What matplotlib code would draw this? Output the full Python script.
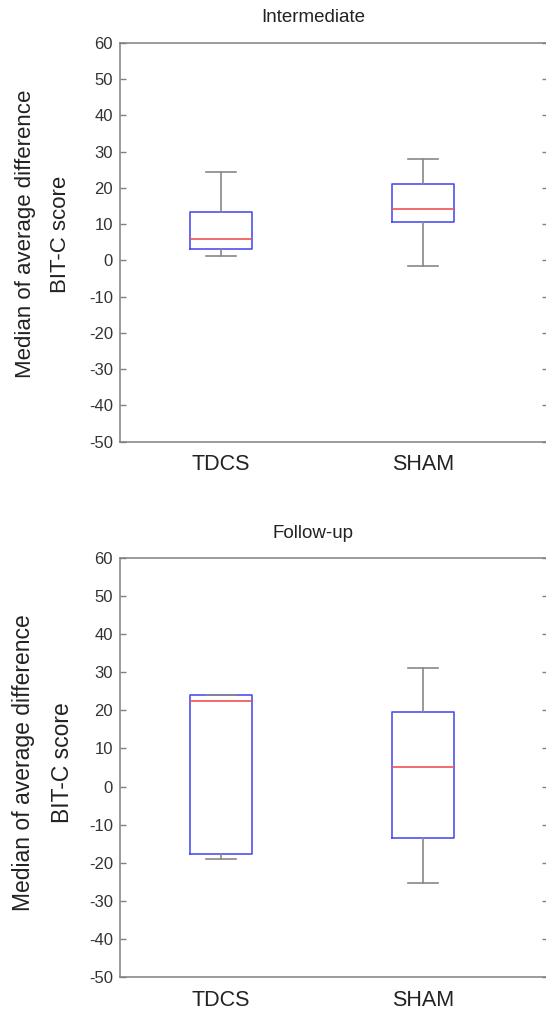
import matplotlib
matplotlib.use("Agg")
import matplotlib.pyplot as plt

plt.rcParams['font.family'] = ['Liberation Sans', 'DejaVu Sans']

groups = ["TDCS", "SHAM"]
panel_titles = ["Intermediate", "Follow-up"]
y_label = "Median of average difference\nBIT-C score"
y_ticks = [60, 50, 40, 30, 20, 10, 0, -10, -20, -30, -40, -50]

# five-number summaries per group: lower whisker, Q1, median, Q3, upper whisker
intermediate_low = [1.1, -1.6]
intermediate_q1 = [3.2, 10.6]
intermediate_med = [5.9, 14.3]
intermediate_q3 = [13.5, 21.2]
intermediate_high = [24.5, 27.9]

followup_low = [-19.0, -25.3]
followup_q1 = [-17.8, -13.4]
followup_med = [22.4, 5.0]
followup_q3 = [24.1, 19.6]
followup_high = [24.1, 31.2]

panels = [
    (intermediate_low, intermediate_q1, intermediate_med, intermediate_q3, intermediate_high),
    (followup_low, followup_q1, followup_med, followup_q3, followup_high),
]

W, H = 546, 1014
fig = plt.figure(figsize=(W / 100, H / 100), dpi=100)

# axes rectangles in pixels: left, top, right, bottom
rects = [(120, 43, 548, 441.7), (120, 557.7, 548, 977.3)]
title_y = [18, 533]
ylabel_y = [234, 763]
ylabel_size = [16, 16.5]

edge = '#808080'
for i, (lo, q1, med, q3, hi) in enumerate(panels):
    l, t, r, b = rects[i]
    ax = fig.add_axes([l / W, 1 - b / H, (r - l) / W, (b - t) / H])
    stats = []
    for g in range(len(groups)):
        stats.append(dict(label=groups[g], whislo=lo[g], q1=q1[g], med=med[g],
                          q3=q3[g], whishi=hi[g], fliers=[]))
    ax.bxp(stats, positions=[1, 2], widths=0.31, capwidths=0.145,
           showfliers=False,
           boxprops=dict(color='#5050f0', linewidth=1.2),
           medianprops=dict(color='#f05050', linewidth=1.2),
           whiskerprops=dict(color='#888888', linewidth=1.2),
           capprops=dict(color='#888888', linewidth=1.2))
    ax.set_xlim(0.5, 2.619)
    ax.set_ylim(-50, 60)
    ax.set_yticks(y_ticks)
    ax.set_yticklabels([str(v) for v in y_ticks], fontsize=12, color='#333333')
    ax.set_xticks([1, 2])
    ax.set_xticklabels(groups, fontsize=15.5, color='#222222')
    ax.tick_params(axis='y', direction='in', length=4, width=1, color=edge,
                   right=True, pad=5)
    ax.tick_params(axis='x', length=0, pad=9)
    for s in ['left', 'top', 'bottom']:
        ax.spines[s].set_color(edge)
        ax.spines[s].set_linewidth(1.1)
    ax.spines['right'].set_visible(False)

    fig.text(313 / W, 1 - title_y[i] / H, panel_titles[i], ha='center',
             va='center', fontsize=13.5, color='#222222')
    fig.text(43 / W, 1 - ylabel_y[i] / H, y_label, rotation=90, ha='center',
             va='center', multialignment='center', fontsize=ylabel_size[i],
             linespacing=1.85, color='#222222')

fig.savefig("out.png", dpi=100)
